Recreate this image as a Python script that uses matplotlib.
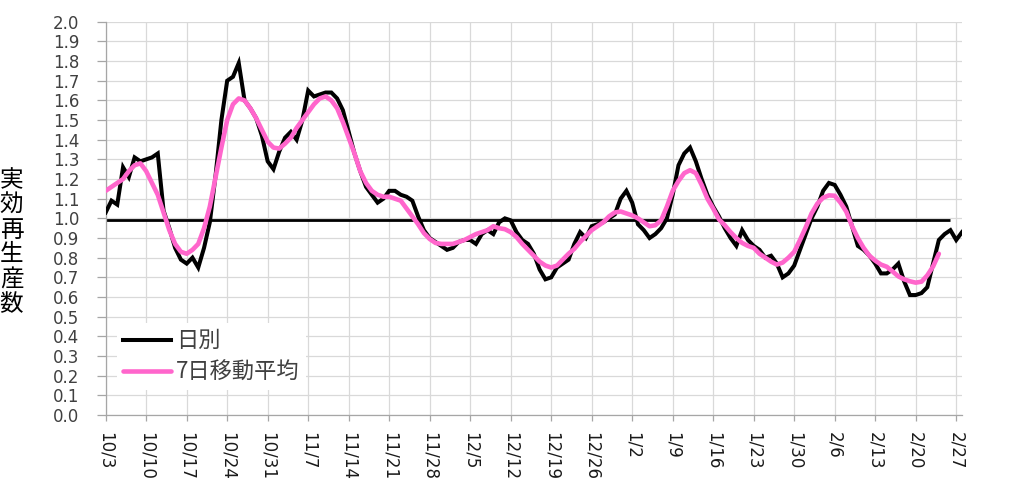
import matplotlib
matplotlib.use("Agg")
import matplotlib.pyplot as plt
import numpy as np
import pandas as pd

# 日別の実効再生産数 (10/3 - 2/28)
daily = [
    1.03, 1.09, 1.07, 1.26, 1.21, 1.31, 1.29, 1.30, 1.31, 1.33,
    1.04, 0.95, 0.85, 0.79, 0.77, 0.80, 0.75, 0.85, 0.98, 1.22,
    1.50, 1.70, 1.72, 1.79, 1.60, 1.56, 1.51, 1.42, 1.29, 1.25,
    1.34, 1.41, 1.44, 1.40, 1.50, 1.65, 1.62, 1.63, 1.64, 1.64,
    1.61, 1.55, 1.44, 1.33, 1.24, 1.16, 1.12, 1.08, 1.10, 1.14,
    1.14, 1.12, 1.11, 1.09, 1.01, 0.94, 0.90, 0.88, 0.86, 0.84,
    0.85, 0.88, 0.89, 0.89, 0.87, 0.92, 0.94, 0.92, 0.98, 1.00,
    0.99, 0.93, 0.89, 0.87, 0.82, 0.74, 0.69, 0.70, 0.75, 0.77,
    0.79, 0.87, 0.93, 0.90, 0.96, 0.97, 0.98, 1.00, 1.02, 1.10,
    1.14, 1.08, 0.97, 0.94, 0.90, 0.92, 0.95, 1.00, 1.12, 1.27,
    1.33, 1.36, 1.29, 1.20, 1.12, 1.06, 1.01, 0.95, 0.90, 0.86,
    0.94, 0.89, 0.86, 0.84, 0.80, 0.81, 0.77, 0.70, 0.72, 0.76,
    0.84, 0.92, 1.00, 1.06, 1.14, 1.18, 1.17, 1.12, 1.06, 0.96,
    0.86, 0.84, 0.81, 0.77, 0.72, 0.72, 0.74, 0.77, 0.68, 0.61,
    0.61, 0.62, 0.65, 0.77, 0.89, 0.92, 0.94, 0.89, 0.93,
]

# 7日移動平均 (中央値なので末尾3日は無し)
ma7 = [
    1.14, 1.16, 1.18, 1.20, 1.24, 1.27, 1.28, 1.24, 1.18, 1.12,
    1.03, 0.94, 0.87, 0.83, 0.82, 0.84, 0.87, 0.95, 1.06, 1.21,
    1.36, 1.50, 1.58, 1.61, 1.60, 1.56, 1.51, 1.45, 1.39, 1.36,
    1.355, 1.38, 1.41, 1.46, 1.50, 1.54, 1.58, 1.61, 1.62, 1.60,
    1.56, 1.49, 1.41, 1.33, 1.24, 1.18, 1.14, 1.12, 1.11, 1.11,
    1.10, 1.09, 1.05, 1.01, 0.97, 0.925, 0.895, 0.875, 0.87, 0.87,
    0.87, 0.88, 0.89, 0.905, 0.92, 0.93, 0.94, 0.96, 0.95, 0.945,
    0.93, 0.905, 0.87, 0.84, 0.81, 0.78, 0.76, 0.75, 0.76, 0.79,
    0.82, 0.845, 0.88, 0.91, 0.94, 0.96, 0.98, 1.01, 1.03, 1.035,
    1.025, 1.015, 1.00, 0.98, 0.96, 0.965, 0.99, 1.06, 1.14, 1.19,
    1.23, 1.245, 1.23, 1.17, 1.10, 1.05, 0.995, 0.965, 0.93, 0.90,
    0.875, 0.86, 0.85, 0.82, 0.80, 0.78, 0.765, 0.775, 0.80, 0.83,
    0.89, 0.955, 1.025, 1.075, 1.105, 1.117, 1.115, 1.08, 1.034, 0.96,
    0.90, 0.85, 0.81, 0.785, 0.765, 0.754, 0.73, 0.705, 0.69, 0.68,
    0.673, 0.678, 0.71, 0.755, 0.82,
]

ref_level = 0.99   # 基準線 (1.0付近)
ref_days = 147

dates = pd.date_range("2021-10-03", periods=len(daily))
tick_idx = list(range(0, len(daily) - 1, 7))
tick_labels = [f"{dates[i].month}/{dates[i].day}" for i in tick_idx]
y_ticks = np.round(np.arange(0, 2.01, 0.1), 1)

jp = ["Noto Sans CJK JP", "DejaVu Sans"]
num_font = "DejaVu Sans"

fig = plt.figure(figsize=(10.27, 4.83), dpi=100)
ax = fig.add_axes([0.1029, 0.1408, 0.8338, 0.8142])

x = np.arange(len(daily))
ax.plot(np.arange(ref_days), [ref_level] * ref_days, color="black", lw=2.0,
        zorder=2, solid_capstyle="butt")
ax.plot(x, daily, color="black", lw=2.9, zorder=3, label="日別",
        solid_joinstyle="miter")
ax.plot(np.arange(len(ma7)), ma7, color="#FF66CC", lw=3.3, zorder=4,
        label="7日移動平均", solid_capstyle="round")

ax.set_xlim(0, len(daily) - 1)
ax.set_ylim(0, 2.0)
ax.set_xticks(tick_idx)
ax.set_xticklabels(tick_labels, rotation=270, ha="center", va="top",
                   fontsize=12, family=num_font, color="#1a1a1a")
ax.set_yticks(y_ticks)
ax.set_yticklabels([f"{v:.1f}" for v in y_ticks], fontsize=12,
                   family=num_font, color="#404040")

ax.grid(True, color="#D9D9D9", lw=0.9, zorder=0)
ax.set_axisbelow(True)
for s in ["top", "right"]:
    ax.spines[s].set_visible(False)
for s in ["left", "bottom"]:
    ax.spines[s].set_color("#A6A6A6")
    ax.spines[s].set_linewidth(0.9)
ax.tick_params(axis="y", direction="out", length=6.5, width=0.9,
               color="#A6A6A6", pad=12.5)
ax.tick_params(axis="x", direction="out", length=4.5, width=0.9,
               color="#A6A6A6", pad=8)

leg = ax.legend(loc="lower left", bbox_to_anchor=(0.0, 0.035),
                prop={"family": jp, "size": 16}, frameon=True,
                facecolor="white", edgecolor="none", framealpha=1,
                fancybox=False, handlelength=2.16, handletextpad=0.2,
                labelspacing=0.36, borderpad=0.3)
for t in leg.get_texts():
    t.set_color("#404040")

fig.text(0.0112, 0.498, "\n".join("実効再生産数"), ha="center", va="center",
         fontsize=17, family=jp, linespacing=1.1)

fig.savefig("out.png", dpi=100)
